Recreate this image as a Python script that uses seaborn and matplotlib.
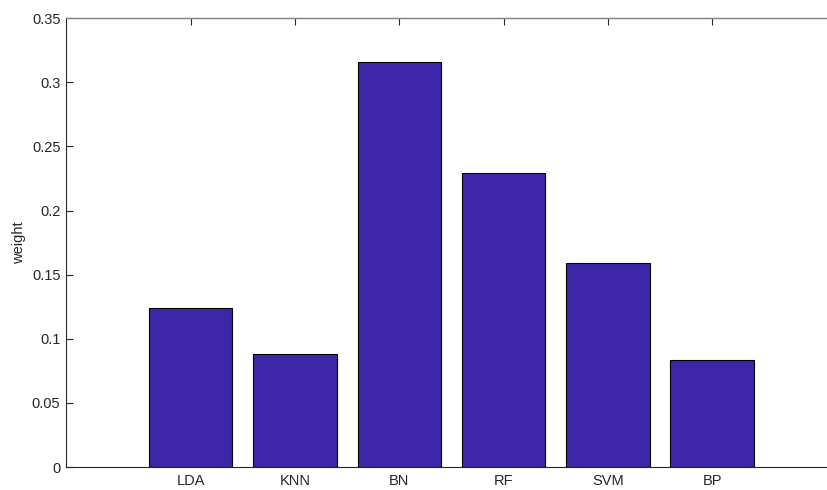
import matplotlib
matplotlib.use('Agg')
import matplotlib.pyplot as plt
import seaborn as sns
import pandas as pd

# bar heights
methods = ['LDA', 'KNN', 'BN', 'RF', 'SVM', 'BP']
weights = [0.124, 0.088, 0.3157, 0.2295, 0.159, 0.0835]
ytick_vals = [0, 0.05, 0.1, 0.15, 0.2, 0.25, 0.3, 0.35]
ytick_labels = ['0', '0.05', '0.1', '0.15', '0.2', '0.25', '0.3', '0.35']

df = pd.DataFrame({'method': methods, 'weight': weights})

sns.set_style('white')
plt.rcParams['font.family'] = ['Liberation Sans', 'DejaVu Sans']

fig = plt.figure(figsize=(8.27, 4.90), dpi=100)
ax = fig.add_axes([0.0798, 0.0469, 0.920, 0.916])

sns.barplot(data=df, x='method', y='weight', color='#3E26A8', saturation=1,
            width=0.8, edgecolor='black', linewidth=0.8, ax=ax)

ax.set_xlim(-1.196, 6.10)
ax.set_ylim(0, 0.35)
ax.set_yticks(ytick_vals)
ax.set_yticklabels(ytick_labels)
ax.set_xlabel('')
ax.set_ylabel('weight', fontsize=10.5, color='#262626')

for side in ['left', 'bottom']:
    ax.spines[side].set_color('#262626')
    ax.spines[side].set_linewidth(0.8)
ax.spines['top'].set_color('#808080')
ax.spines['top'].set_linewidth(1.0)
ax.spines['right'].set_visible(False)

ax.tick_params(axis='both', direction='in', length=5, width=0.8,
               colors='#262626', labelsize=10.5, labelcolor='#262626')
ax.tick_params(axis='x', top=True, pad=5)
ax.tick_params(axis='y', left=True, pad=4)

fig.savefig('out.png', dpi=100)
